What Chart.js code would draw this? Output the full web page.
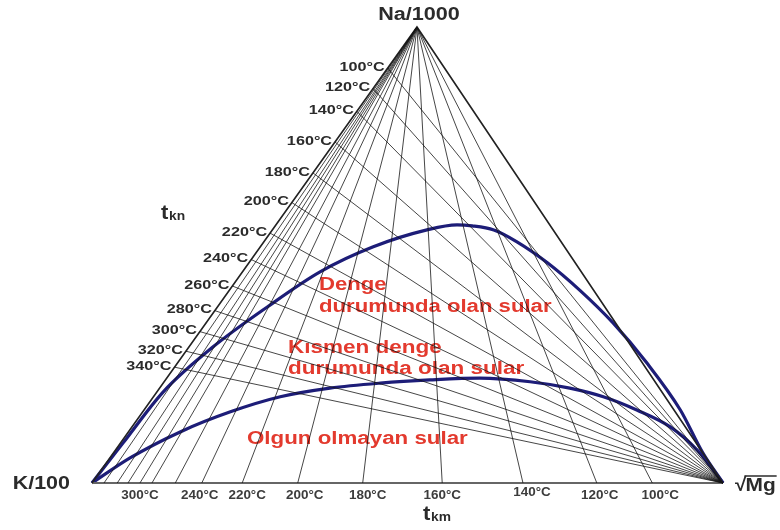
<!DOCTYPE html>
<html>
<head>
<meta charset="utf-8">
<script src="https://cdn.jsdelivr.net/npm/chart.js@4/dist/chart.umd.min.js"></script>
<style>
html,body{margin:0;padding:0;background:#fff;}
#wrap{width:780px;height:530px;}
</style>
</head>
<body>
<div id="wrap"><canvas id="c" width="780" height="530"></canvas></div>
<script>
// ---- Data (ternary fractions) ----
// Na-K isotherms (t_kn): Na fraction where each line meets the Na–K side
const tknTemps   = [100, 120, 140, 160, 180, 200, 220, 240, 260, 280, 300, 320, 340];
const tknNaFrac  = [0.91, 0.865, 0.815, 0.748, 0.68, 0.615, 0.548, 0.49, 0.432, 0.378, 0.332, 0.289, 0.254];
// K-Mg isotherms (t_km): sqrt(Mg) fraction where each line meets the K–Mg base
const tkmTemps   = [100, 120, 140, 160, 180, 200, 220, 240, 260, 280, 300, 320, 340, 360];
const tkmMgFrac  = [0.888, 0.800, 0.683, 0.555, 0.429, 0.326, 0.238, 0.174, 0.132, 0.095, 0.076, 0.057, 0.040, 0.019];
const tkmLabeled = [100, 120, 140, 160, 180, 200, 220, 240, 300];
// Full equilibrium curve
const fullEqNa = [0, 0.088, 0.200, 0.298, 0.386, 0.463, 0.518, 0.555, 0.566, 0.564, 0.555, 0.529, 0.483, 0.423, 0.351, 0.263, 0.160, 0.066, 0];
const fullEqMg = [0, 0.004, 0.010, 0.038, 0.079, 0.123, 0.179, 0.245, 0.287, 0.312, 0.351, 0.401, 0.473, 0.555, 0.645, 0.744, 0.850, 0.934, 1];
// Partial equilibrium curve
const partEqNa = [0, 0.055, 0.112, 0.156, 0.189, 0.208, 0.219, 0.226, 0.230, 0.222, 0.208, 0.189, 0.160, 0.123, 0.072, 0];
const partEqMg = [0, 0.032, 0.082, 0.139, 0.201, 0.270, 0.344, 0.419, 0.496, 0.580, 0.650, 0.713, 0.781, 0.853, 0.922, 1];

// ---- geometry: ternary -> cartesian ----
const APEX = 0.515;
function tern(m, n) { return {x: m + APEX * n, y: n}; }

const datasets = [];
const gridColor = 'rgba(20,20,20,0.88)';
tknTemps.forEach((t, i) => {
  datasets.push({data: [tern(1, 0), tern(0, tknNaFrac[i])], borderColor: gridColor, borderWidth: 0.9});
});
tkmTemps.forEach((t, i) => {
  datasets.push({data: [tern(0, 1), tern(tkmMgFrac[i], 0)], borderColor: gridColor, borderWidth: 0.9});
});
// triangle sides
datasets.push({data: [tern(0, 0), tern(0, 1), tern(1, 0)], borderColor: '#222', borderWidth: 1.6});
datasets.push({data: [tern(0, 0), tern(1, 0)], borderColor: '#666', borderWidth: 2.2});
// curves
datasets.push({data: fullEqNa.map((n, i) => tern(fullEqMg[i], n)), borderColor: '#1d1d78', borderWidth: 3.2, cubicInterpolationMode: 'monotone'});
datasets.push({data: partEqNa.map((n, i) => tern(partEqMg[i], n)), borderColor: '#1d1d78', borderWidth: 3.2, cubicInterpolationMode: 'monotone'});
datasets.forEach(d => { d.showLine = true; d.pointRadius = 0; d.fill = false; d.clip = false; d.tension = d.cubicInterpolationMode ? 0.4 : 0; });

const FONT = '"Liberation Sans", Arial, sans-serif';
function txt(ctx, s, x, y, size, color, align, sx) {
  ctx.save();
  ctx.font = 'bold ' + size + 'px ' + FONT;
  ctx.fillStyle = color;
  ctx.textBaseline = 'middle';
  ctx.textAlign = align;
  ctx.translate(x, y);
  ctx.scale(sx, 1);
  ctx.fillText(s, 0, 0);
  ctx.restore();
}

// small horizontal nudges of the base labels (layout only)
const baseLabelShift = {100: 8, 120: 3, 140: 9, 160: 0, 180: 5, 200: 7, 220: 5, 240: -2, 300: 0};

const textPlugin = {
  id: 'ternaryText',
  beforeDatasetsDraw(chart) {
    const ctx = chart.ctx;
    const red = '#e33a2e';
    txt(ctx, 'Denge', 319, 285, 18, red, 'left', 1.23);
    txt(ctx, 'durumunda olan sular', 319, 307, 18, red, 'left', 1.23);
    txt(ctx, 'Kısmen denge', 288, 348, 18, red, 'left', 1.25);
    txt(ctx, 'durumunda olan sular', 288, 369, 18, red, 'left', 1.25);
    txt(ctx, 'Olgun olmayan sular', 247, 439, 18, red, 'left', 1.24);
  },
  afterDraw(chart) {
    const ctx = chart.ctx;
    const xs = chart.scales.x, ys = chart.scales.y;
    const P = (p) => ({x: xs.getPixelForValue(p.x), y: ys.getPixelForValue(p.y)});
    const dark = '#2b2b2b';
    // left side temperature labels
    tknTemps.forEach((t, i) => {
      const p = P(tern(0, tknNaFrac[i]));
      txt(ctx, t + '°C', p.x - 3, p.y - 1, 13.5, dark, 'right', 1.2);
    });
    // base labels
    tkmTemps.forEach((t, i) => {
      if (!tkmLabeled.includes(t)) return;
      const p = P(tern(tkmMgFrac[i], 0));
      const dy = t === 140 ? 10 : 13;
      txt(ctx, t + '°C', p.x + (baseLabelShift[t] || 0), p.y + dy, 12, '#3c3c3c', 'center', 1.12);
    });
    // vertex labels
    const na = P(tern(0, 1)), k = P(tern(0, 0)), mg = P(tern(1, 0));
    txt(ctx, 'Na/1000', na.x + 2, na.y - 12, 18, dark, 'center', 1.2);
    txt(ctx, 'K/100', k.x - 22, k.y + 1, 19, dark, 'right', 1.13);
    // sqrt(Mg)
    ctx.save();
    ctx.font = 'bold 19px ' + FONT;
    const sx = mg.x + 12, sy = mg.y + 3;
    txt(ctx, '√', sx, sy, 19, dark, 'left', 1.1);
    const w1 = ctx.measureText('√').width * 1.1;
    txt(ctx, 'Mg', sx + w1 - 1, sy, 19, dark, 'left', 1.1);
    const w2 = ctx.measureText('Mg').width * 1.1;
    ctx.strokeStyle = dark; ctx.lineWidth = 1.5;
    ctx.beginPath(); ctx.moveTo(sx + w1 - 2, sy - 10); ctx.lineTo(sx + w1 + w2, sy - 10); ctx.stroke();
    ctx.restore();
    // axis names
    txt(ctx, 't', 161, 213, 20, dark, 'left', 1.1);
    txt(ctx, 'kn', 169, 217, 12, dark, 'left', 1.15);
    txt(ctx, 't', 423, 514, 20, dark, 'left', 1.1);
    txt(ctx, 'km', 431, 518, 12, dark, 'left', 1.15);
  }
};

new Chart(document.getElementById('c'), {
  type: 'scatter',
  data: {datasets},
  options: {
    responsive: false,
    animation: false,
    layout: {padding: {left: 92, right: 57, top: 27, bottom: 47}},
    scales: {
      x: {type: 'linear', min: 0, max: 1, display: false},
      y: {type: 'linear', min: 0, max: 1, display: false}
    },
    plugins: {legend: {display: false}, tooltip: {enabled: false}},
    elements: {point: {radius: 0}}
  },
  plugins: [textPlugin]
});
</script>
</body>
</html>
